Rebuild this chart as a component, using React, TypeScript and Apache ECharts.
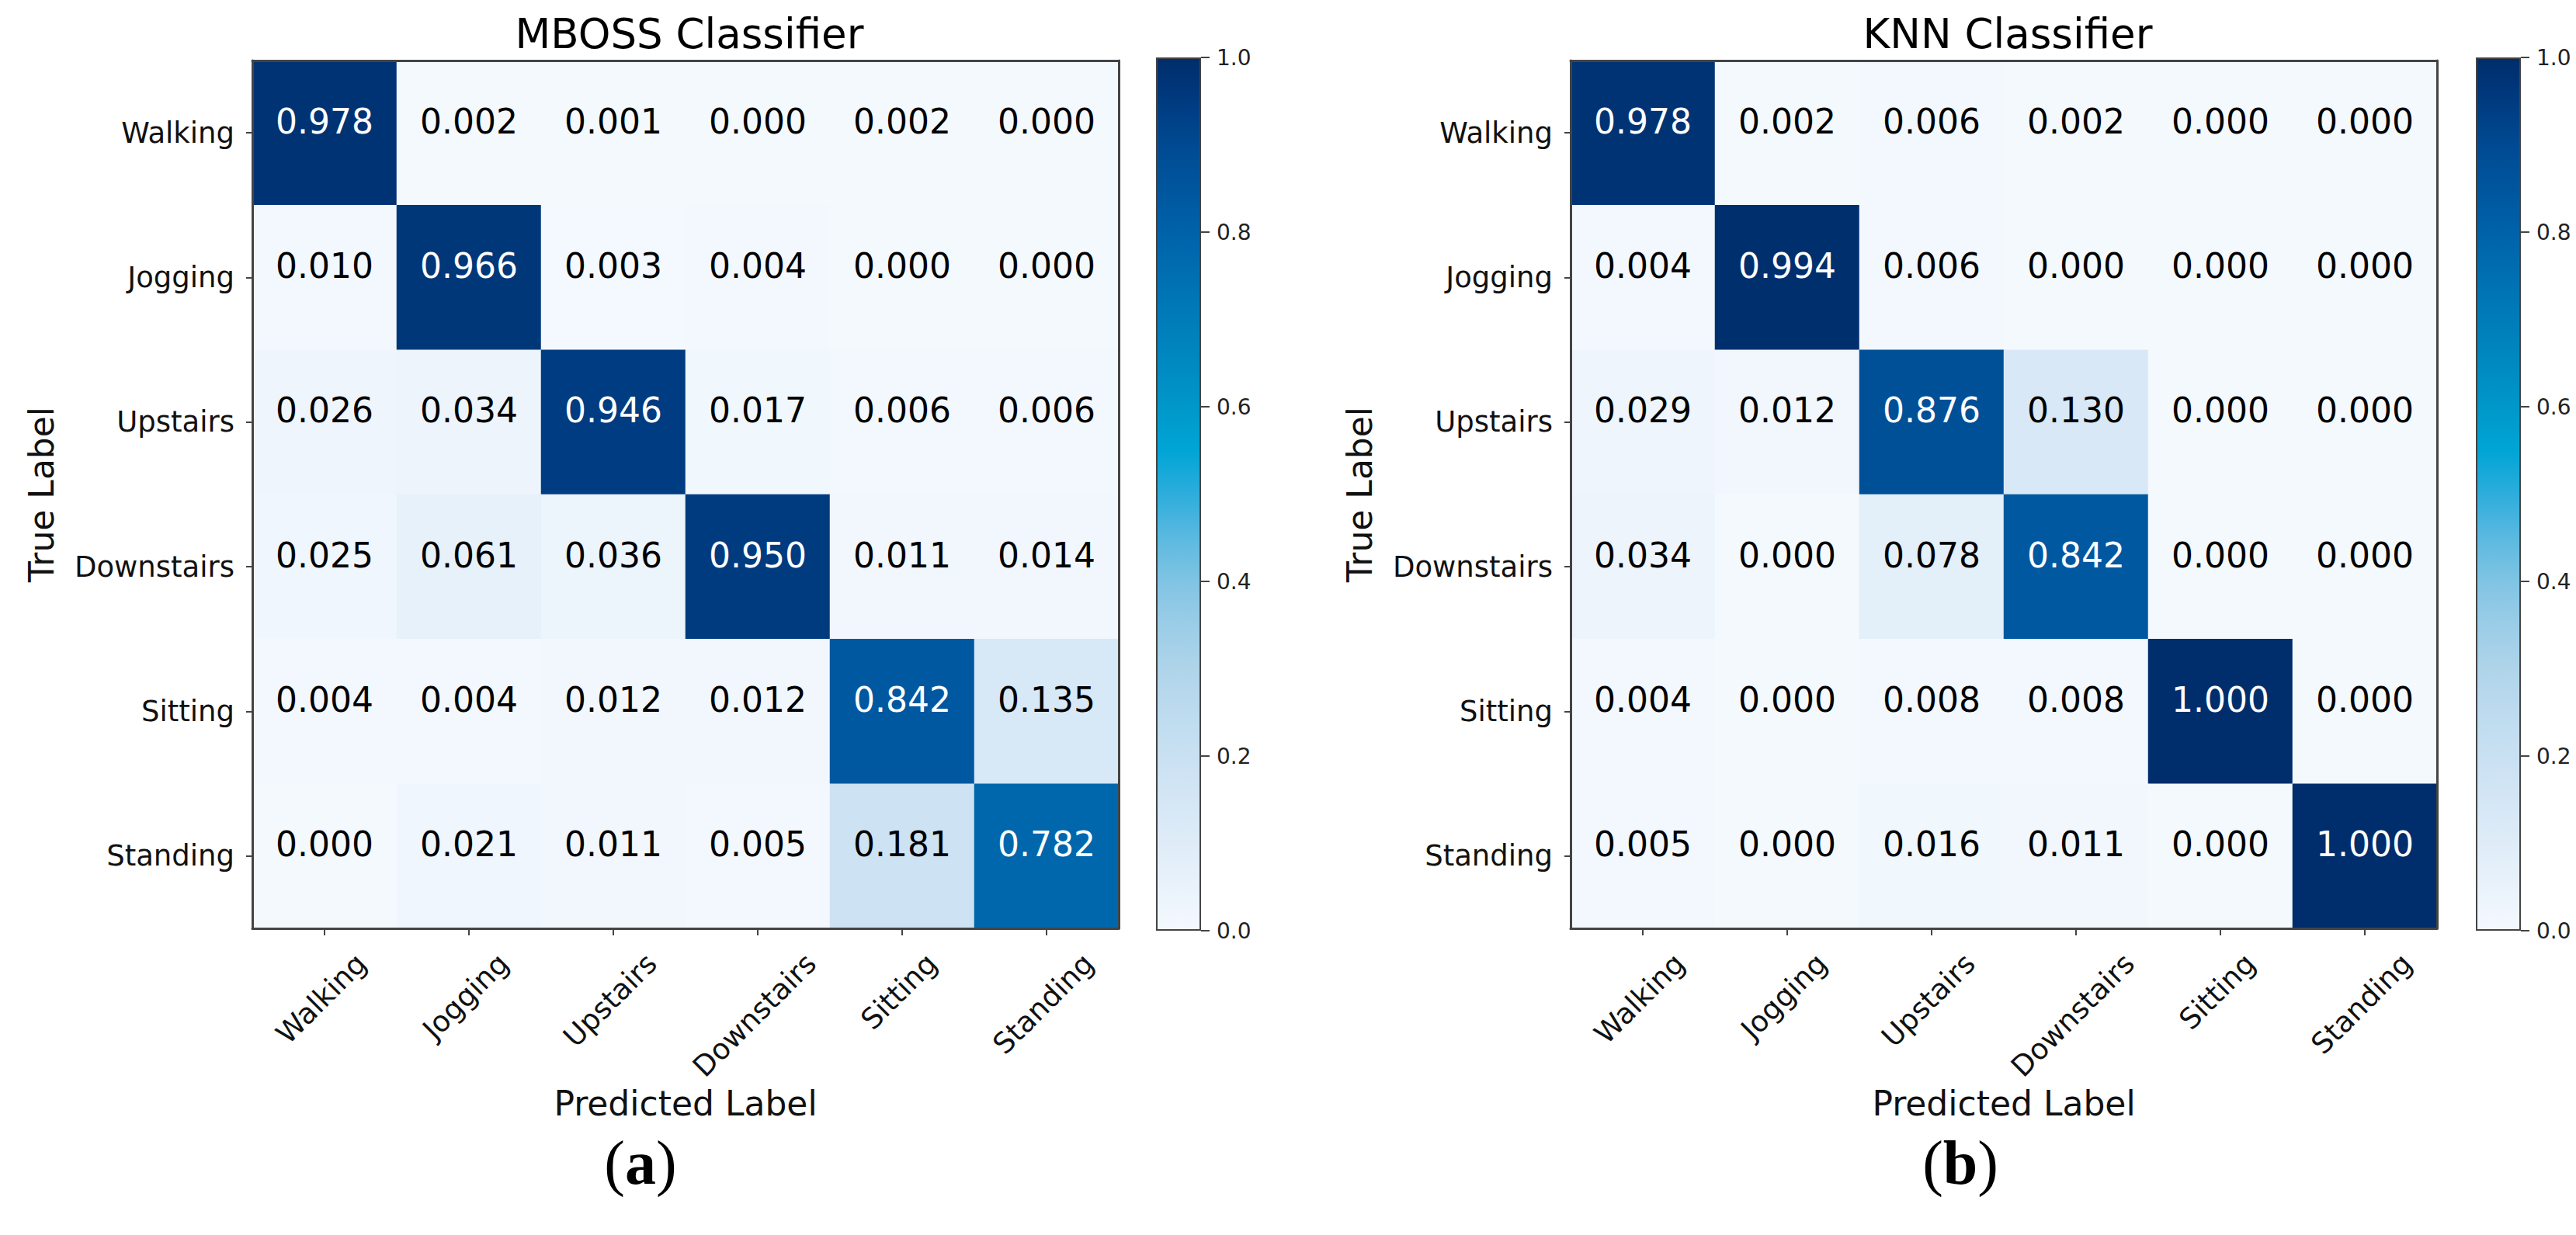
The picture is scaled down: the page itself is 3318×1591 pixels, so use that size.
import React, { useEffect, useRef } from 'react';
import * as echarts from 'echarts';

// ---------- data ----------
const CLASSES = ['Walking', 'Jogging', 'Upstairs', 'Downstairs', 'Sitting', 'Standing'];

const MBOSS_MATRIX = [
  [0.978, 0.002, 0.001, 0.000, 0.002, 0.000],
  [0.010, 0.966, 0.003, 0.004, 0.000, 0.000],
  [0.026, 0.034, 0.946, 0.017, 0.006, 0.006],
  [0.025, 0.061, 0.036, 0.950, 0.011, 0.014],
  [0.004, 0.004, 0.012, 0.012, 0.842, 0.135],
  [0.000, 0.021, 0.011, 0.005, 0.181, 0.782],
];

const KNN_MATRIX = [
  [0.978, 0.002, 0.006, 0.002, 0.000, 0.000],
  [0.004, 0.994, 0.006, 0.000, 0.000, 0.000],
  [0.029, 0.012, 0.876, 0.130, 0.000, 0.000],
  [0.034, 0.000, 0.078, 0.842, 0.000, 0.000],
  [0.004, 0.000, 0.008, 0.008, 1.000, 0.000],
  [0.005, 0.000, 0.016, 0.011, 0.000, 1.000],
];

const TITLES = ['MBOSS Classifier', 'KNN Classifier'];
const CAPTIONS = ['a', 'b'];
const COLORBAR_MIN = 0;
const COLORBAR_MAX = 1;
const COLORBAR_STEP = 0.2;

// colour scale (0 -> 1, evenly spaced)
const SCALE = [
  '#f4f9fe', '#e9f2fb', '#dfecf8', '#d4e6f5', '#c9e0f2', '#bddbef', '#afd4ea',
  '#9bcde7', '#80c4e3', '#5bb9e0', '#2daddc', '#00a5d5', '#0097c9', '#0089c1',
  '#007cb9', '#006fb1', '#0062a9', '#00569e', '#004a92', '#003b80', '#002d6b',
];

const FONT = "'DejaVu Sans', 'Liberation Sans', sans-serif";
const SERIF = "'Liberation Serif', 'DejaVu Serif', serif";
const AXIS_COLOR = '#444444';

function measure(text: string, size: number): number {
  const ctx = document.createElement('canvas').getContext('2d');
  if (!ctx) return text.length * size * 0.6;
  ctx.font = `${size}px 'DejaVu Sans'`;
  return ctx.measureText(text).width;
}

function heatData(matrix: number[][]) {
  const out: any[] = [];
  matrix.forEach((row, r) =>
    row.forEach((v, c) =>
      out.push({ value: [c, r, v], label: { color: v > 0.5 ? '#ffffff' : '#000000' } })
    )
  );
  return out;
}

export default function App() {
  const ref = useRef<HTMLDivElement>(null);

  useEffect(() => {
    if (!ref.current) return;
    const chart = echarts.init(ref.current, undefined, { renderer: 'svg' });

    const HM_TOP = 78;
    const HM_W = 1116;
    const HM_H = 1118;
    const CB_TOP = 74;
    const CB_W = 58;
    const CB_H = 1125;
    const panels = [
      { hmLeft: 325, cbLeft: 1489, capX: 820, matrix: MBOSS_MATRIX },
      { hmLeft: 2023, cbLeft: 3189, capX: 2520, matrix: KNN_MATRIX },
    ];

    // rotated tick labels, centred under their ticks (matplotlib style)
    const TICK_FS = 37;
    const LH = 37;
    const xLabelData = CLASSES.map((c) => {
      const L = measure(c, TICK_FS);
      const D = 39 + 0.3535 * L; // centre of the rotated label below the axis line
      const dx = -4;
      const u = (dx - D) / Math.SQRT2; // along the reading direction
      const v = (dx + D) / Math.SQRT2; // perpendicular (text "down")
      const r = Math.max(0, -2 * u);
      const t = Math.max(0, v - LH / 2);
      return {
        value: c,
        textStyle: {
          align: 'center', verticalAlign: 'top', lineHeight: LH,
          fontSize: TICK_FS, fontFamily: FONT, color: '#111111',
          padding: [t, r, 0, 0],
        },
      };
    });

    const grid: any[] = [];
    const xAxis: any[] = [];
    const yAxis: any[] = [];
    const series: any[] = [];
    const title: any[] = [];

    const stops = SCALE.map((color, i) => ({ offset: i / (SCALE.length - 1), color }));

    panels.forEach((p, i) => {
      const g0 = grid.length;
      grid.push({ left: p.hmLeft, top: HM_TOP, width: HM_W, height: HM_H, containLabel: false });
      grid.push({ left: p.cbLeft, top: CB_TOP, width: CB_W, height: CB_H, containLabel: false });

      const xb = xAxis.length;
      xAxis.push({
        type: 'category', gridIndex: g0, position: 'bottom', data: xLabelData, z: 10,
        axisLine: { show: true, lineStyle: { color: AXIS_COLOR, width: 3 } },
        axisTick: { show: true, alignWithLabel: true, length: 9, lineStyle: { color: AXIS_COLOR, width: 2 } },
        axisLabel: {
          interval: 0, rotate: 45, align: 'center', verticalAlign: 'top', margin: 0,
          lineHeight: LH, fontSize: TICK_FS, fontFamily: FONT, color: '#111111',
        },
        splitLine: { show: false },
        name: 'Predicted Label', nameLocation: 'middle', nameGap: 203, nameMoveOverlap: false,
        nameTextStyle: { fontSize: 44, fontFamily: FONT, color: '#111111' },
      });
      xAxis.push({
        type: 'category', gridIndex: g0, position: 'top', data: CLASSES, z: 10,
        axisLine: { show: true, lineStyle: { color: AXIS_COLOR, width: 3 } },
        axisTick: { show: false }, axisLabel: { show: false }, splitLine: { show: false },
      });
      xAxis.push({ type: 'category', gridIndex: g0 + 1, data: ['cb'], show: false });

      const yb = yAxis.length;
      yAxis.push({
        type: 'category', gridIndex: g0, position: 'left', inverse: true, data: CLASSES, z: 10,
        axisLine: { show: true, lineStyle: { color: AXIS_COLOR, width: 3 } },
        axisTick: { show: true, alignWithLabel: true, length: 8, lineStyle: { color: AXIS_COLOR, width: 2 } },
        axisLabel: { interval: 0, margin: 23, fontSize: TICK_FS, fontFamily: FONT, color: '#111111' },
        splitLine: { show: false },
        name: 'True Label', nameLocation: 'middle', nameGap: 250, nameMoveOverlap: false,
        nameTextStyle: { fontSize: 44, fontFamily: FONT, color: '#111111' },
      });
      yAxis.push({
        type: 'category', gridIndex: g0, position: 'right', inverse: true, data: CLASSES, z: 10,
        axisLine: { show: true, lineStyle: { color: AXIS_COLOR, width: 3 } },
        axisTick: { show: false }, axisLabel: { show: false }, splitLine: { show: false },
      });
      yAxis.push({
        type: 'value', gridIndex: g0 + 1, position: 'right',
        min: COLORBAR_MIN, max: COLORBAR_MAX, interval: COLORBAR_STEP,
        axisLine: { show: false },
        axisTick: { show: true, length: 11, lineStyle: { color: AXIS_COLOR, width: 2 } },
        axisLabel: {
          margin: 20, fontSize: 28, fontFamily: FONT, color: '#222222',
          formatter: (v: number) => v.toFixed(1),
        },
        splitLine: { show: false },
      });

      series.push({
        type: 'heatmap', xAxisIndex: xb, yAxisIndex: yb, data: heatData(p.matrix),
        label: {
          show: true, fontSize: 44, fontFamily: FONT, offset: [0, -15],
          formatter: (prm: any) => Number(prm.value[2]).toFixed(3),
        },
        itemStyle: { borderWidth: 0 },
        emphasis: { disabled: true },
        silent: true,
      });
      series.push({
        type: 'bar', xAxisIndex: xb + 2, yAxisIndex: yb + 2, data: [COLORBAR_MAX],
        barWidth: '100%', silent: true,
        itemStyle: {
          color: new echarts.graphic.LinearGradient(0, 1, 0, 0, stops),
          borderColor: AXIS_COLOR, borderWidth: 2,
        },
      });

      title.push({
        text: TITLES[i], left: p.hmLeft + HM_W / 2, top: 12, textAlign: 'center',
        textStyle: { fontSize: 53, fontWeight: 'normal', fontFamily: FONT, color: '#000000' },
      });
      title.push({
        text: `{p|(}{b|${CAPTIONS[i]}}{p|)}`, left: p.capX, top: 1448, textAlign: 'center',
        textStyle: {
          rich: {
            p: { fontSize: 80, lineHeight: 90, fontFamily: SERIF, color: '#000000', fontWeight: 'normal' },
            b: { fontSize: 80, lineHeight: 90, fontFamily: SERIF, color: '#000000', fontWeight: 'bold' },
          },
        },
      });
    });

    chart.setOption({
      animation: false,
      backgroundColor: '#ffffff',
      title,
      grid,
      xAxis,
      yAxis,
      visualMap: {
        type: 'continuous', show: false, min: COLORBAR_MIN, max: COLORBAR_MAX,
        dimension: 2, seriesIndex: [0, 2], inRange: { color: SCALE },
      },
      series,
    });

    return () => chart.dispose();
  }, []);

  return (
    <div
      ref={ref}
      style={{ position: 'fixed', left: 0, top: 0, width: 3318, height: 1591, background: '#fff' }}
    />
  );
}
